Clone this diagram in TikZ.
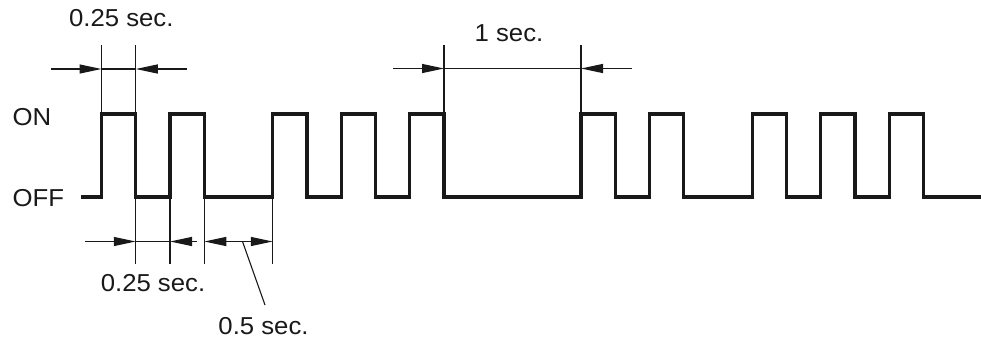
\documentclass[tikz,border=0pt]{standalone}
\usepackage{fontspec}
\setmainfont{Liberation Sans}[FakeStretch=1.05]
\usetikzlibrary{arrows.meta}
\tikzset{
  wave/.style={line width=3.2pt, line join=miter, color=black!90},
  extline/.style={line width=1.1pt, color=black!90},
  dimline/.style={line width=1.2pt, color=black!90},
  dimarrow/.style={dimline, -{Triangle[length=22pt,width=9pt]}},
  dimboth/.style={dimline, {Triangle[length=22pt,width=9pt]}-{Triangle[length=22pt,width=9pt]}},
  lbl/.style={inner sep=0pt, anchor=base, font=\fontsize{24.5}{28}\selectfont, text=black!90},
}
\begin{document}
\begin{tikzpicture}[x=1pt,y=-1pt]
\useasboundingbox (0,0) rectangle (981,341);
\def\XO{101.5}
\def\U{34.25}
\def\YON{114}
\def\YOFF{197}
% waveform
\draw[wave] (81,\YOFF)
  foreach \a/\b in {0/1,2/3,5/6,7/8,9/10,14/15,16/17,19/20,21/22,23/24} {
    -- ({\XO+\a*\U},\YOFF) -- ({\XO+\a*\U},\YON) -- ({\XO+\b*\U},\YON) -- ({\XO+\b*\U},\YOFF)
  } -- (981,\YOFF);
% labels
\node[lbl, anchor=base west] (on) at (12.5,125.5) {ON};
\node[lbl, anchor=base west] (off) at (12.5,206) {OFF};
% top 0.25 sec
\coordinate (t1a) at ({\XO},45);
\coordinate (t1b) at ({\XO},\YON);
\coordinate (t2a) at ({\XO+\U},45);
\coordinate (t2b) at ({\XO+\U},\YON);
\draw[extline] (t1a) -- (t1b);
\draw[extline] (t2a) -- (t2b);
\coordinate (d1) at ({\XO},69);
\coordinate (d2) at ({\XO+\U},69);
\coordinate (d1s) at (51,69);
\coordinate (d2s) at (187,69);
\draw[dimarrow] (d1s) -- (d1);
\draw[dimline] (d1) -- (d2);
\draw[dimarrow] (d2s) -- (d2);
\node[lbl] (lt) at (121.3,26) {0.25 sec.};
% top 1 sec
\coordinate (o1a) at ({\XO+10*\U},45);
\coordinate (o1b) at ({\XO+10*\U},\YON);
\coordinate (o2a) at ({\XO+14*\U},45);
\coordinate (o2b) at ({\XO+14*\U},\YON);
\draw[extline] (o1a) -- (o1b);
\draw[extline] (o2a) -- (o2b);
\coordinate (e1) at ({\XO+10*\U},68.5);
\coordinate (e2) at ({\XO+14*\U},68.5);
\coordinate (e1s) at (393,68.5);
\coordinate (e2s) at (632,68.5);
\draw[dimarrow] (e1s) -- (e1);
\draw[dimline] (e1) -- (e2);
\draw[dimarrow] (e2s) -- (e2);
\node[lbl] (lone) at (509,41) {1 sec.};
% bottom dimensions
\foreach \k/\n in {1/b1,2/b2,3/b3,5/b5} {
  \coordinate (\n a) at ({\XO+\k*\U},\YOFF);
  \coordinate (\n b) at ({\XO+\k*\U},264);
  \coordinate (\n d) at ({\XO+\k*\U},241.5);
  \draw[extline] (\n a) -- (\n b);
}
\coordinate (b1s) at (85,241.5);
\coordinate (b2s) at (197,241.5);
\draw[dimarrow] (b1s) -- (b1d);
\draw[dimline] (b1d) -- (b2d);
\draw[dimarrow] (b2s) -- (b2d);
\draw[dimboth] (b3d) -- (b5d);
\coordinate (lead1) at (242.5,241.5);
\coordinate (lead2) at (265,305);
\draw[extline] (lead1) -- (lead2);
\node[lbl] (lb) at (153,291) {0.25 sec.};
\node[lbl] (lh) at (263.5,334) {0.5 sec.};
\end{tikzpicture}
\end{document}
